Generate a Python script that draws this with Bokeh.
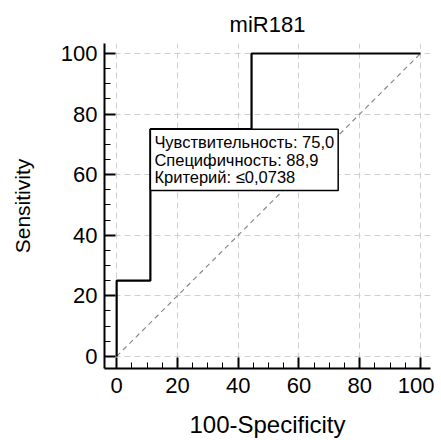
from bokeh.plotting import figure
from bokeh.models import Range1d, FixedTicker, Label
from bokeh.embed import file_html
from bokeh.resources import INLINE

# ROC curve points (100-Specificity, Sensitivity)
roc_x = [0, 0, 11.1, 11.1, 44.4, 44.4, 100]
roc_y = [0, 25, 25, 75, 75, 100, 100]
# reference diagonal
diag_x = [0, 100]
diag_y = [0, 100]
# optimal criterion point
crit_x = 11.1
crit_y = 75
info_lines = ["Чувствительность: 75,0", "Специфичность: 88,9", "Критерий: ≤0,0738"]
major_ticks = [0, 20, 40, 60, 80, 100]
minor_ticks = [5, 10, 15, 25, 30, 35, 45, 50, 55, 65, 70, 75, 85, 90, 95]

FONT = "Liberation Sans"

p = figure(frame_width=326, frame_height=325, output_backend="svg", toolbar_location=None,
           x_range=Range1d(-4, 103.3), y_range=Range1d(-4, 103.3),
           min_border_left=104, min_border_right=4, min_border_top=43, min_border_bottom=66,
           title="miR181")
p.outline_line_color = None
p.background_fill_color = "white"
p.border_fill_color = "white"

p.title.text_font = FONT
p.title.text_font_size = "22px"
p.title.text_font_style = "normal"
p.title.align = "center"
p.title.text_color = "black"
p.title.standoff = 14

p.xaxis.axis_label = "100-Specificity"
p.yaxis.axis_label = "Sensitivity"
for ax in (p.xaxis[0], p.yaxis[0]):
    ax.ticker = FixedTicker(ticks=major_ticks, minor_ticks=minor_ticks)
    ax.axis_line_width = 2
    ax.axis_line_color = "black"
    ax.major_tick_in = 11
    ax.major_tick_out = 0
    ax.major_tick_line_width = 2
    ax.major_tick_line_color = "black"
    ax.minor_tick_in = 6
    ax.minor_tick_out = 0
    ax.minor_tick_line_width = 1
    ax.minor_tick_line_color = "black"
    ax.major_label_text_font = FONT
    ax.major_label_text_font_size = "22px"
    ax.major_label_text_color = "black"
    ax.axis_label_text_font = FONT
    ax.axis_label_text_font_style = "normal"
    ax.axis_label_text_color = "black"
p.xaxis.axis_label_text_font_size = "24px"
p.yaxis.axis_label_text_font_size = "21px"
p.xaxis.major_label_standoff = 9
p.yaxis.major_label_standoff = 7
p.xaxis.axis_label_standoff = 15
p.yaxis.axis_label_standoff = 24

for g in (p.xgrid[0], p.ygrid[0]):
    g.ticker = FixedTicker(ticks=major_ticks)
    g.grid_line_color = "#cfcfcf"
    g.grid_line_dash = "6 4"
    g.grid_line_width = 1

p.line(diag_x, diag_y, line_color="#8a8a8a", line_dash="5 4", line_width=1.2)
p.line(roc_x, roc_y, line_color="black", line_width=2.2)

lab = Label(x=crit_x, y=crit_y, text="\n".join(info_lines),
            anchor="top_left", text_font=FONT, text_font_size="16.5px",
            text_color="black", text_line_height=0.98,
            background_fill_color="white", border_line_color="black",
            border_line_width=1.5, padding=4)
p.add_layout(lab)

open("out.html", "w").write(file_html(p, INLINE))
